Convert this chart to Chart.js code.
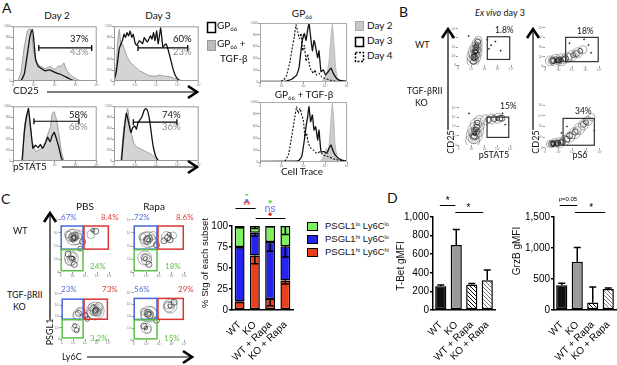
<!DOCTYPE html>
<html>
<head>
<meta charset="utf-8">
<title>TGF-beta figure</title>
<script src="https://cdn.jsdelivr.net/npm/chart.js@4.4.1/dist/chart.umd.min.js"></script>
<style>
  body { margin: 0; background: #fff; }
  #fig { position: relative; width: 617px; height: 365px; overflow: hidden; font-family: Lato, 'Open Sans', sans-serif; color: #111; }
  #fig canvas { position: absolute; }
  .t { position: absolute; white-space: nowrap; line-height: 1; }
  .c { transform: translateX(-50%); }
  .r { transform: translate(-50%, -50%) rotate(-90deg); }
  .arial { font-family: 'Liberation Sans', Arial, sans-serif; }
  sub { font-size: 0.6em; vertical-align: -0.25em; line-height: 0; }
  sup { font-size: 0.6em; vertical-align: 0.45em; line-height: 0; }
  #deco { position: absolute; left: 0; top: 0; pointer-events: none; }
</style>
</head>
<body>
<div id="fig"></div>
<script>
'use strict';

// ******* DATA : PANEL A HISTOGRAMS *********
// [x as % of the log axis, events scaled so the frame top is 1000]
let cd25Day2Gp = [[9.6,0],[13.5,128],[17.3,506],[20.4,826],[23,942],[24.6,797],[27,390],[30,273],[33.8,227],[38.5,186],[44,203],[50,157],[55.8,128],[61.5,87],[67.3,41],[73,6],[77,0]];
let cd25Day2Tgf = [[5.8,0],[9.6,157],[13.5,622],[17.3,913],[20,960],[22.3,884],[25,506],[28.8,331],[32.7,273],[38.5,227],[44,262],[50,215],[54,273],[57.7,273],[60.8,331],[63.5,215],[67.3,128],[72.3,70],[79,12],[84.6,0]];
let cd25Day3Gp = [[0,12],[2.6,157],[6.3,599],[9.9,738],[11.8,855],[13.6,797],[15.4,884],[17.3,826],[19.1,913],[21,797],[22.8,855],[24.6,709],[26.5,651],[30.1,738],[33.8,680],[35.7,797],[39.3,709],[43,826],[44.9,767],[46.7,884],[48.5,738],[50.4,913],[52.2,680],[55.1,971],[57.7,622],[61.4,680],[65.1,506],[68.8,273],[72.4,99],[76.1,23],[79.8,0]];
let cd25Day3Tgf = [[0.7,0],[2.9,331],[4.4,738],[6.3,942],[8.1,651],[9.9,680],[12.5,564],[15.4,448],[19.1,343],[24.6,262],[30.1,186],[35.7,145],[41.2,99],[48.5,87],[54,110],[59.6,87],[65,81],[70.6,52],[76,17],[79.8,0]];
let pstatDay2Gp = [[10.8,0],[13.5,523],[16.2,814],[18.5,959],[21.2,581],[23.8,233],[26.9,291],[30,244],[32.7,302],[35.4,233],[38.5,320],[41.5,436],[44.2,349],[46.9,465],[49.2,523],[51.9,407],[54.6,262],[57.7,58],[59.6,0]];
let pstatDay2Tgf = [[11.5,0],[13.8,640],[16.2,860],[17.7,890],[20,756],[23,349],[26.9,174],[30.8,203],[34.6,233],[38.5,349],[42.3,523],[44.6,610],[46.9,872],[49.2,901],[51.9,756],[54.6,523],[57.7,174],[60.8,12],[63.5,0]];
let pstatDay3Gp = [[8.8,0],[11.8,523],[14.7,872],[17.3,698],[19.9,523],[22.1,610],[24.6,640],[26.5,581],[28.3,698],[30.9,756],[33.1,814],[35.7,930],[37.5,959],[39.3,930],[41.2,814],[43,640],[44.9,407],[46.7,233],[49.3,87],[52.2,12],[54,0]];
let pstatDay3Tgf = [[8.1,0],[11,523],[13.6,814],[16.2,959],[18.4,698],[21,465],[23.5,320],[26.5,262],[30.1,233],[33.8,203],[37.5,174],[41.2,145],[44.9,116],[48.5,58],[52.2,12],[55.1,0]];

// gates: [from %, to %, height]
let cd25Day2Gate = [30.8, 94, 605];
let cd25Day3Gate = [28.3, 87, 605];
let pstatDay2Gate = [25, 78.8, 727];
let pstatDay3Gate = [22.8, 74.3, 709];

// cell trace dilution, GP66 alone and GP66 + TGF-beta
let traceGpDay2 = [[70.9,0],[74.7,88],[77.8,206],[79.7,412],[81.2,706],[83.1,988],[85.1,647],[87,235],[89.3,59],[93.9,0]];
let traceGpDay3 = [[0,12],[28.7,12],[36.4,47],[42.1,118],[44.8,235],[47.1,529],[48.7,706],[51,824],[52.9,706],[54.8,882],[56.3,1000],[58.2,765],[60.2,529],[62.1,706],[64,588],[66.3,412],[67.8,529],[70.1,176],[72.8,206],[75.5,118],[78.5,176],[81.6,235],[84.3,147],[88.1,59],[92,29],[100,12]];
let traceGpDay4 = [[0,0],[21.1,6],[26.8,29],[30.7,118],[34.5,353],[37.2,588],[39.5,765],[41.4,971],[43.3,853],[45.2,735],[47.1,824],[49,529],[51,618],[52.9,353],[54.8,471],[56.7,294],[58.6,206],[61.3,147],[63.2,206],[65.1,118],[67.8,147],[70.9,88],[74.7,59],[82.4,24],[92,6],[100,0]];
let traceTgfDay2 = [[69,0],[72.8,89],[76.6,228],[78.5,144],[80.5,478],[82,811],[83.1,978],[84.7,756],[86.2,311],[88.5,89],[93.9,0]];
let traceTgfDay3 = [[0,11],[44,17],[47.9,89],[51,367],[52.9,589],[54.8,756],[56.3,922],[58.2,672],[60.2,783],[62.1,533],[64,589],[66.3,367],[67.8,533],[70.1,172],[73.9,172],[76.6,144],[79.3,228],[81.6,283],[84.3,172],[88.1,89],[93.9,33],[100,11]];
let traceTgfDay4 = [[28.7,11],[32.6,117],[36.4,422],[39.5,700],[42.1,922],[44,811],[46,894],[47.9,783],[49.8,700],[51.7,422],[53.6,478],[55.6,311],[58.6,228],[61.3,200],[65.1,144],[69,172],[72.8,117],[78.5,89],[86.2,44],[100,11]];

let logTicks = ['0', '10²', '10³', '10⁴', '10⁵'];
let countTicks = ['0', '200', '400', '600', '800', '1000'];

// ******* DATA : CONTOUR PLOTS (x %, y %, ring radius) *********
let wtStat5 = [[28,12,6],[30,24,7],[32,36,7],[34,48,6],[36,60,5],[38,70,3.5],[29,16,4.5],[31,28,5],[33,40,5],[35,52,4],[37,63,3],[30,22,3],[32,32,3.5],[33,42,3],[34,50,2.5],[31,27,2],[33,37,2],[32,33,1.2],[34,45,1.2],[31,20,3.5],[33,30,4],[35,44,3.5],[32,36,2.5],[30,18,2],[35,55,2],[29,10,3],[55,70,0.6],[62,55,0.6],[70,65,0.6],[80,40,0.6],[58,45,0.6],[20,80,0.6]];
let wtS6 = [[10,14,5],[20,15,6],[30,17,6],[40,22,5],[50,28,5],[60,35,5],[70,43,4],[12,14,3.5],[22,15,4],[32,17,4],[45,25,3.5],[58,33,3],[15,14,2.5],[24,15,2.5],[30,16,2],[20,14,1.5],[27,15,1.2],[14,15,3],[18,16,3.5],[26,16,3],[34,18,2.5],[38,20,3],[23,15,1.5],[52,29,2.5],[65,40,2.5],[80,55,0.6],[85,35,0.6],[45,60,0.6],[72,70,0.6]];
let koStat5 = [[27,12,7],[30,26,8],[33,40,8],[36,54,7],[40,66,5],[52,68,5],[64,70,5],[76,72,5],[84,72,3],[29,18,5],[31,30,5.5],[34,43,5],[37,56,4],[68,71,3],[80,72,3],[30,24,3],[32,34,3.5],[33,42,2.5],[31,30,1.5],[34,38,1.2],[29,20,3.5],[31,27,4.5],[33,38,4],[35,48,3],[31,32,2],[36,60,2.5],[58,68,3],[75,71,2],[20,85,0.6],[90,55,0.6],[85,85,0.6]];
let koS6 = [[10,9,4],[18,10,5],[27,12,5],[36,17,5],[45,25,5],[54,34,5.5],[62,44,5.5],[70,54,5],[78,63,4.5],[85,72,3.5],[12,9,3],[20,10,3.5],[29,12,3],[50,30,3.5],[60,42,3.5],[70,55,3],[15,9,2],[22,10,2],[18,9,1.2],[26,11,1.2],[14,10,2.5],[24,11,3],[32,14,3],[40,20,3],[17,10,3],[45,28,3],[55,37,3],[75,60,2.5],[40,50,0.6],[90,40,0.6],[30,35,0.6]];
let wtPbs = [[27,67,8],[22,70,6],[33,64,6],[27,67,5],[25,68,3.5],[29,66,3],[27,67,1.8],[38,72,4],[15,72,3.5],[24,66,4],[30,69,4],[26,64,2.5],[22,27,7],[20,22,5],[24,30,4],[22,26,2.5],[28,15,3],[15,35,3],[21,24,3.5],[25,27,2],[62,72,4],[72,78,3],[66,80,2],[45,58,3],[40,45,2.5]];
let wtRapa = [[28,62,8],[24,65,6],[33,60,6],[28,62,4.5],[27,63,3],[29,61,1.8],[38,70,4],[17,68,3.5],[26,60,4],[31,64,3.5],[22,27,7],[25,24,5],[21,29,3.5],[23,26,2],[30,15,3],[24,28,4],[65,68,5],[78,70,3.5],[72,62,3],[60,60,3],[70,72,2],[67,66,3],[45,52,3]];
let koPbs = [[72,62,9],[70,60,7],[74,64,6],[72,62,4.5],[72,62,3],[71,61,1.8],[80,72,4],[64,70,3.5],[69,63,5],[75,60,4],[73,65,2.5],[38,55,6],[32,52,4],[42,62,4],[50,52,3],[36,57,3],[30,25,4],[32,20,2.5],[28,30,2],[55,45,2.5]];
let koRapa = [[30,55,8],[26,52,6],[34,58,6],[30,55,4.5],[29,55,3],[30,56,1.8],[20,60,3.5],[28,57,4],[33,53,3.5],[72,72,7],[70,70,5],[74,74,3.5],[72,72,2],[80,80,3],[68,74,4],[25,25,5],[28,22,3.5],[20,30,3],[24,26,1.8],[45,42,3]];

// gate boxes [x from, x to, y from, y to] in %
let bGates = [[55, 97, 16, 78], [38, 98, 12, 75], [55, 97, 21, 75], [33, 90, 6, 69]];
let cBlueGate = [1, 46, 44, 88];
let cRedGate = [48, 98, 44, 88];
let cGreenGate = [1, 46, 3, 43];

// ******* DATA : BAR CHARTS *********
let groups = ['WT', 'KO', 'WT + Rapa', 'KO + Rapa'];
let loLo = [25, 8, 19, 24];
let hiLo = [65, 27, 68, 41];
let hiHi = [10, 65, 13, 35];
let loLoErr = [2, 3, 1, 10];
let hiLoErr = [1, 4, 11, 13];
let hiHiErr = [1, 10, 8, 4];
let stackTicks = [0, 25, 50, 75, 100];

let tbet = [255, 700, 275, 320];
let tbetErr = [15, 165, 10, 110];
let grzb = [400, 780, 120, 340];
let grzbErr = [30, 230, 250, 15];

// significance: [from bar, to bar, height] and [bar, height, text, colour]
let stackSigLines = [[-0.27, 1.05, 121], [1.05, 3.0, 110]];
let stackSigMarks = [[0.47, 138, 'dot', '#6fd855'], [0.47, 130, 'dot', '#5b6ff0'], [0.47, 123, '**', '#e03030'], [2.0, 129, 'dot', '#6fd855'], [2.0, 120, 'ns', '#5b6ff0'], [2.0, 114, 'dot', '#e03030']];
let tbetSigLines = [[-0.06, 0.94, 1129], [0.94, 2.74, 1054]];
let tbetSigMarks = [[0.45, 1165, '*', '#000'], [1.78, 1090, '*', '#000']];
let grzbSigLines = [[-0.13, 1.0, 1694], [0.85, 2.8, 1581]];
let grzbSigMarks = [[0.4, 1790, 'p=0.05', '#000', 6], [1.9, 1640, '*', '#000']];

// ******* DOM *********
let fig = document.getElementById('fig');

// ******* PLUGINS *********
let framePlugin = {
  id: 'frame',
  afterDraw(chart, args, opts) {
    if (!opts.color) return;
    let a = chart.chartArea;
    let g = chart.ctx;
    g.save();
    g.strokeStyle = opts.color;
    g.lineWidth = 1;
    g.strokeRect(a.left + 0.5, a.top + 0.5, a.right - a.left - 1, a.bottom - a.top - 1);
    g.restore();
  }
};

let gatePlugin = {
  id: 'gates',
  afterDatasetsDraw(chart, args, opts) {
    let xs = chart.scales.x;
    let ys = chart.scales.y;
    let g = chart.ctx;
    (opts.boxes || []).forEach(b => {
      let x0 = xs.getPixelForValue(b.box[0]);
      let x1 = xs.getPixelForValue(b.box[1]);
      let y0 = ys.getPixelForValue(b.box[2]);
      let y1 = ys.getPixelForValue(b.box[3]);
      g.save();
      g.strokeStyle = b.color;
      g.lineWidth = b.width;
      g.strokeRect(x0, y1, x1 - x0, y0 - y1);
      g.restore();
    });
  }
};

let errPlugin = {
  id: 'errbars',
  afterDatasetsDraw(chart, args, opts) {
    let ys = chart.scales.y;
    let g = chart.ctx;
    let unit = ys.getPixelForValue(0) - ys.getPixelForValue(1);
    chart.data.datasets.forEach((ds, i) => {
      if (!ds.errs) return;
      chart.getDatasetMeta(i).data.forEach((bar, j) => {
        let yEnd = bar.y + ds.errs[j] * unit * (opts.dir === 'down' ? 1 : -1);
        g.save();
        g.strokeStyle = '#000';
        g.lineWidth = 1.5;
        g.beginPath();
        g.moveTo(bar.x, bar.y);
        g.lineTo(bar.x, yEnd);
        g.moveTo(bar.x - 3.5, yEnd);
        g.lineTo(bar.x + 3.5, yEnd);
        g.stroke();
        g.restore();
      });
    });
  }
};

let sigPlugin = {
  id: 'sig',
  afterDraw(chart, args, opts) {
    let xs = chart.scales.x;
    let ys = chart.scales.y;
    let g = chart.ctx;
    g.save();
    (opts.lines || []).forEach(l => {
      let y = Math.round(ys.getPixelForValue(l[2])) + 0.5;
      g.strokeStyle = '#000';
      g.lineWidth = 1;
      g.beginPath();
      g.moveTo(xs.getPixelForValue(l[0]), y);
      g.lineTo(xs.getPixelForValue(l[1]), y);
      g.stroke();
    });
    (opts.marks || []).forEach(m => {
      let x = xs.getPixelForValue(m[0]);
      let y = ys.getPixelForValue(m[1]);
      g.fillStyle = m[3];
      if (m[2] === 'dot') {
        g.beginPath();
        g.arc(x, y, 1.7, 0, Math.PI * 2);
        g.fill();
      } else {
        g.font = (m[4] || 10) + "px 'Liberation Sans', Arial";
        g.textAlign = 'center';
        g.textBaseline = 'middle';
        g.fillText(m[2], x, y);
      }
    });
    g.restore();
  }
};

// ****** HELPER FUNCTIONS ******

// frame = [left, top, right, bottom] of the plot area, pad = [top, right, bottom, left]
function addChart(frame, pad, config) {
  let canvas = document.createElement('canvas');
  canvas.width = frame[2] - frame[0] + pad[1] + pad[3];
  canvas.height = frame[3] - frame[1] + pad[0] + pad[2];
  canvas.style.left = (frame[0] - pad[3]) + 'px';
  canvas.style.top = (frame[1] - pad[0]) + 'px';
  canvas.style.width = canvas.width + 'px';
  canvas.style.height = canvas.height + 'px';
  fig.appendChild(canvas);

  let o = config.options;
  o.responsive = false;
  o.animation = false;
  o.events = [];
  o.layout = { padding: { top: pad[0], right: pad[1], bottom: 0, left: 0 } };
  o.scales.x.afterFit = s => { s.height = pad[2]; s.paddingLeft = 0; s.paddingRight = 0; };
  o.scales.y.afterFit = s => { s.width = pad[3]; s.paddingTop = 0; s.paddingBottom = 0; };
  o.plugins = Object.assign({ legend: { display: false }, tooltip: { enabled: false } }, o.plugins);
  config.plugins = [framePlugin, gatePlugin, errPlugin, sigPlugin];
  return new Chart(canvas, config);
}

function tinyAxis(max, step, names) {
  return {
    type: 'linear', min: 0, max: max,
    grid: { drawOnChartArea: false, tickLength: 2, color: '#999' },
    border: { display: false },
    ticks: { stepSize: step, autoSkip: false, maxRotation: 0, font: { size: 3.2 }, color: '#777', padding: 0, callback: (v, i) => names[i] }
  };
}

function gatePts(gate) {
  return [{ x: gate[0], y: gate[2] }, { x: gate[1], y: gate[2] }];
}

function renderHist(frame, black, grey, gate) {
  addChart(frame, [2, 2, 6, 10], {
    type: 'line',
    data: {
      datasets: [
        { data: gatePts(gate), borderColor: '#000', borderWidth: 1.2, pointStyle: 'line', pointRotation: 90, pointRadius: 3, pointBorderWidth: 1.3, pointBorderColor: '#000' },
        { data: black, borderColor: '#111', borderWidth: 1.3, pointRadius: 0, tension: 0.1 },
        { data: grey, borderColor: '#999', backgroundColor: '#d4d4d4', borderWidth: 1, fill: 'origin', pointRadius: 0, tension: 0.1 }
      ]
    },
    options: {
      scales: { x: tinyAxis(100, 25, logTicks), y: tinyAxis(1000, 200, countTicks) },
      plugins: { frame: { color: '#999' } }
    }
  });
}

function renderTrace(frame, day2, day3, day4) {
  addChart(frame, [2, 2, 6, 10], {
    type: 'line',
    data: {
      datasets: [
        { data: day3, borderColor: '#111', borderWidth: 1.3, pointRadius: 0, tension: 0.1 },
        { data: day4, borderColor: '#111', borderWidth: 1.1, borderDash: [2, 1.5], pointRadius: 0, tension: 0.1 },
        { data: day2, borderColor: '#bbb', backgroundColor: '#cbcbcb', borderWidth: 1, fill: 'origin', pointRadius: 0, tension: 0.1 }
      ]
    },
    options: {
      scales: { x: tinyAxis(100, 25, logTicks), y: tinyAxis(1000, 200, countTicks) },
      plugins: { frame: { color: '#aaa' } }
    }
  });
}

function renderContour(frame, rings, boxes) {
  addChart(frame, [1, 1, 6, 8], {
    type: 'bubble',
    data: {
      datasets: [{
        data: rings.map(p => ({ x: p[0], y: p[1], r: p[2] })),
        backgroundColor: rings.map(p => p[2] < 1 ? '#555' : 'rgba(0,0,0,0)'),
        borderColor: rings.map(p => p[2] < 3.1 ? 'rgba(20,20,20,0.9)' : 'rgba(80,80,80,0.65)'),
        borderWidth: 0.7
      }]
    },
    options: {
      scales: { x: tinyAxis(100, 25, logTicks), y: tinyAxis(100, 25, logTicks) },
      plugins: { gates: { boxes: boxes } }
    }
  });
}

function barScales(max, step, ticks) {
  return {
    x: {
      stacked: true,
      grid: { display: false },
      border: { display: true, color: '#000', width: 1.5 },
      ticks: { autoSkip: false, minRotation: 45, maxRotation: 45, padding: 1, color: '#000', font: { family: "'Liberation Sans', Arial", size: 10 } }
    },
    y: {
      stacked: true, min: 0, max: max,
      afterBuildTicks: s => { s.ticks = ticks.map(v => ({ value: v })); },
      grid: { drawOnChartArea: false, tickLength: 3, color: '#000', lineWidth: 1.5 },
      border: { display: true, color: '#000', width: 1.5 },
      ticks: { stepSize: step, padding: 1, color: '#000', font: { family: "'Liberation Sans', Arial", size: 10 } }
    }
  };
}

function hatch(color) {
  let tile = document.createElement('canvas');
  tile.width = 4;
  tile.height = 4;
  let g = tile.getContext('2d');
  g.fillStyle = '#fff';
  g.fillRect(0, 0, 4, 4);
  g.strokeStyle = color;
  g.lineWidth = 1;
  g.beginPath();
  g.moveTo(0, 0); g.lineTo(4, 4);
  g.moveTo(-1, 3); g.lineTo(1, 5);
  g.moveTo(3, -1); g.lineTo(5, 1);
  g.stroke();
  return g.createPattern(tile, 'repeat');
}

function renderGroupBars(frame, values, errs, max, step, ticks, sigLines, sigMarks) {
  addChart(frame, [25, 2, 55, 33], {
    type: 'bar',
    data: {
      labels: groups,
      datasets: [{
        data: values, errs: errs,
        backgroundColor: ['#111', '#9a9a9a', hatch('#000'), hatch('#777')],
        borderColor: '#000', borderWidth: 1.5, borderSkipped: false,
        barPercentage: 0.72, categoryPercentage: 1
      }]
    },
    options: {
      scales: barScales(max, step, ticks),
      plugins: { errbars: { dir: 'up' }, sig: { lines: sigLines, marks: sigMarks } }
    }
  });
}

function label(html, x, y, size, cls, color) {
  let d = document.createElement('div');
  d.className = 't ' + (cls || '');
  d.innerHTML = html;
  d.style.left = x + 'px';
  d.style.top = y + 'px';
  d.style.fontSize = size + 'px';
  d.style.color = color || '#111';
  fig.appendChild(d);
}

// ***** EXECUTABLE CODE ******

// panel A
renderHist([13, 23, 100, 81], cd25Day2Gp, cd25Day2Tgf, cd25Day2Gate);
renderHist([114, 23, 202, 81], cd25Day3Gp, cd25Day3Tgf, cd25Day3Gate);
renderHist([13, 103, 100, 161], pstatDay2Gp, pstatDay2Tgf, pstatDay2Gate);
renderHist([114, 103, 202, 161], pstatDay3Gp, pstatDay3Tgf, pstatDay3Gate);
renderTrace([260, 23, 347, 82], traceGpDay2, traceGpDay3, traceGpDay4);
renderTrace([260, 102, 347, 162], traceTgfDay2, traceTgfDay3, traceTgfDay4);

// panel B
let black = c => ({ box: c, color: '#333', width: 1.2 });
renderContour([458, 22, 518, 67], wtStat5, [black(bGates[0])]);
renderContour([545, 22, 605, 67], wtS6, [black(bGates[1])]);
renderContour([458, 100, 518, 148], koStat5, [black(bGates[2])]);
renderContour([545, 100, 605, 148], koS6, [black(bGates[3])]);

// panel C contours
let cBoxes = [
  { box: cBlueGate, color: '#4a64d8', width: 1.5 },
  { box: cRedGate, color: '#d83535', width: 1.5 },
  { box: cGreenGate, color: '#5cbf45', width: 1.5 }
];
renderContour([60, 212, 117, 275], wtPbs, cBoxes);
renderContour([133, 212, 192, 275], wtRapa, cBoxes);
renderContour([60, 285, 117, 343], koPbs, cBoxes);
renderContour([133, 285, 192, 343], koRapa, cBoxes);

// panel C stacked bars
addChart([232, 226, 293, 310], [32, 2, 55, 30], {
  type: 'bar',
  data: {
    labels: groups,
    datasets: [
      { data: hiHi, errs: hiHiErr, backgroundColor: '#e8401c' },
      { data: hiLo, errs: hiLoErr, backgroundColor: '#2424ee' },
      { data: loLo, errs: loLoErr, backgroundColor: '#80f060' }
    ].map(d => Object.assign(d, { borderColor: '#000', borderWidth: 1.5, borderSkipped: false, barPercentage: 0.65, categoryPercentage: 1 }))
  },
  options: {
    scales: barScales(100, 25, stackTicks),
    plugins: { errbars: { dir: 'down' }, sig: { lines: stackSigLines, marks: stackSigMarks } }
  }
});

// panel D
renderGroupBars([433, 217, 495, 310], tbet, tbetErr, 1000, 200, [0, 200, 400, 600, 800, 1000], tbetSigLines, tbetSigMarks);
renderGroupBars([554, 217, 616, 310], grzb, grzbErr, 1500, 500, [0, 500, 1000, 1500], grzbSigLines, grzbSigMarks);

// ****** TEXT ******
label('A', 2, 1, 14);
label('Day 2', 57, 10, 10, 'c');
label('Day 3', 158, 10, 10, 'c');
label('37%', 70, 33.5, 9.5);
label('43%', 70, 47, 9.5, '', '#8a8a8a');
label('60%', 173, 33.5, 9.5);
label('23%', 173, 47, 9.5, '', '#8a8a8a');
label('58%', 69, 110, 9.5);
label('68%', 69, 121.5, 9.5, '', '#8a8a8a');
label('74%', 162, 109.5, 9.5);
label('36%', 162, 121.5, 9.5, '', '#8a8a8a');
label('CD25', 13, 85, 10);
label('pSTAT5', 13, 161, 10);
label('GP<sub>66</sub>', 217, 20, 10);
label('GP<sub>66</sub> +', 217, 38, 10);
label('TGF-β', 220, 53, 10);
label('GP<sub>66</sub>', 302, 8, 10, 'c');
label('GP<sub>66</sub> + TGF-β', 304, 89, 10, 'c');
label('Cell Trace', 302, 166, 10, 'c');
label('Day 2', 367, 20, 10);
label('Day 3', 367, 35, 10);
label('Day 4', 367, 50, 10);

label('B', 399, 5, 14);
label('<i>Ex vivo</i> day 3', 500, 8, 9, 'c');
label('WT', 415, 40, 9);
label('TGF-βRII', 407, 86, 9);
label('KO', 415, 98, 9);
label('1.8%', 495, 25.5, 8.5);
label('18%', 577, 26.5, 8.5);
label('15%', 500, 101.5, 8.5);
label('34%', 575, 106.5, 8.5);
label('CD25', 450, 142, 9, 'r');
label('CD25', 535, 142, 9, 'r');
label('pSTAT5', 494, 150, 9, 'c');
label('pS6', 580, 150, 9, 'c');

label('C', 1, 192, 14);
label('PBS', 85, 201, 10, 'c');
label('Rapa', 154, 201, 10, 'c');
label('WT', 13, 225.5, 9);
label('TGF-βRII', 7, 290, 9);
label('KO', 13, 301.5, 9);
label('PSGL1', 49, 332, 9, 'r');
label('Ly6C', 62, 352, 9);
label('67%', 61, 212.5, 8, '', '#5570e0');
label('8.4%', 101, 212.5, 8, '', '#e03a3a');
label('24%', 90, 262, 8, '', '#62c24a');
label('72%', 134, 212.5, 8, '', '#5570e0');
label('8.6%', 176, 212.5, 8, '', '#e03a3a');
label('18%', 165, 262, 8, '', '#62c24a');
label('23%', 61, 284.5, 8, '', '#5570e0');
label('73%', 102, 284.5, 8, '', '#e03a3a');
label('3.2%', 90, 333.5, 8, '', '#62c24a');
label('56%', 134, 284.5, 8, '', '#5570e0');
label('29%', 178, 284.5, 8, '', '#e03a3a');
label('15%', 164, 333.5, 8, '', '#62c24a');
label('% Stg of each subset', 205, 263, 9.5, 'r arial');
label('PSGL1<sup>lo</sup> Ly6C<sup>lo</sup>', 325, 221, 9.5, 'arial');
label('PSGL1<sup>hi</sup> Ly6C<sup>lo</sup>', 325, 234, 9.5, 'arial');
label('PSGL1<sup>hi</sup> Ly6C<sup>hi</sup>', 325, 247, 9.5, 'arial');

label('D', 387, 191, 14);
label('T-Bet gMFI', 401, 266, 10, 'r arial');
label('GrzB gMFI', 517, 251, 10, 'r arial');

// ****** ARROWS AND LEGEND KEYS ******
function arrowH(x1, x2, y) {
  return `<line x1="${x1}" y1="${y}" x2="${x2}" y2="${y}" stroke="#000" stroke-width="1.2"/>` +
    `<polyline points="${x2 - 9},${y - 6} ${x2},${y} ${x2 - 9},${y + 6}" fill="none" stroke="#000" stroke-width="2.6"/>`;
}
function arrowV(x, yTop, yBottom) {
  return `<line x1="${x}" y1="${yTop}" x2="${x}" y2="${yBottom}" stroke="#000" stroke-width="1.2"/>` +
    `<polyline points="${x - 6},${yTop + 9} ${x},${yTop} ${x + 6},${yTop + 9}" fill="none" stroke="#000" stroke-width="2.6"/>`;
}
let deco = arrowH(47, 197, 92) + arrowH(62, 197, 167) +
  arrowV(448, 29, 130) + arrowV(533, 29, 130) +
  arrowV(50, 213, 320) + arrowH(87, 192, 357) +
  '<rect x="207.5" y="22.5" width="8" height="10" fill="#fff" stroke="#000" stroke-width="1.5"/>' +
  '<rect x="207.5" y="40.5" width="8" height="10" fill="#bdbdbd" stroke="#999" stroke-width="1"/>' +
  '<rect x="355.5" y="21.5" width="8" height="9" fill="#c8c8c8" stroke="#aaa" stroke-width="1"/>' +
  '<rect x="355.5" y="37.5" width="8" height="9" fill="#fff" stroke="#000" stroke-width="1.5"/>' +
  '<rect x="355.5" y="52.5" width="8" height="9" fill="#fff" stroke="#000" stroke-width="1.5" stroke-dasharray="2,1.5"/>' +
  '<rect x="307.5" y="222.5" width="10" height="8" fill="#80f060" stroke="#000" stroke-width="1"/>' +
  '<rect x="307.5" y="235.5" width="10" height="8" fill="#2424ee" stroke="#000" stroke-width="1"/>' +
  '<rect x="307.5" y="248.5" width="10" height="8" fill="#e8401c" stroke="#000" stroke-width="1"/>';
fig.insertAdjacentHTML('beforeend', `<svg id="deco" width="617" height="365">${deco}</svg>`);
</script>
</body>
</html>
